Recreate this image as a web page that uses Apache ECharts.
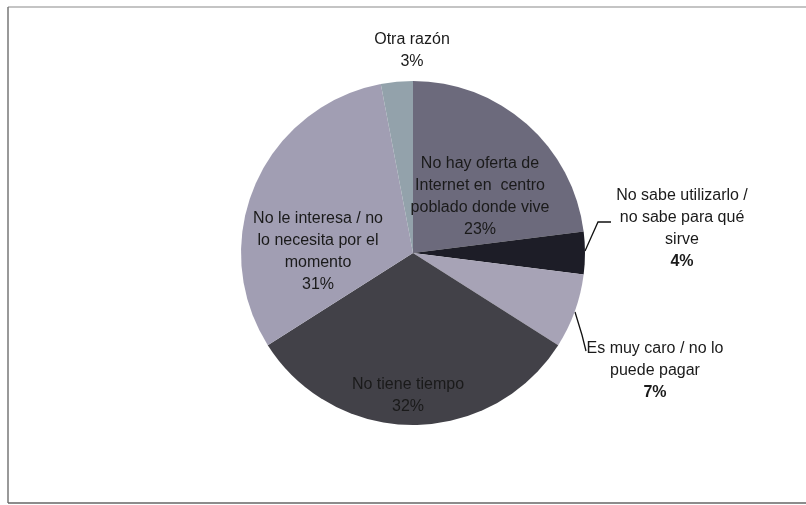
<!DOCTYPE html>
<html>
<head>
<meta charset="utf-8">
<script src="https://cdn.jsdelivr.net/npm/echarts@6/dist/echarts.min.js"></script>
<style>
html,body{margin:0;padding:0;background:#fff;}
#c{width:806px;height:505px;}
</style>
</head>
<body>
<div id="c"></div>
<script>
const categories = [
  "No hay oferta de\nInternet en  centro\npoblado donde vive",
  "No sabe utilizarlo /\nno sabe para qué\nsirve",
  "Es muy caro / no lo\npuede pagar",
  "No tiene tiempo",
  "No le interesa / no\nlo necesita por el\nmomento",
  "Otra razón"
];
const values = [23, 4, 7, 32, 31, 3];
const sliceColors = ["#6c6a7c", "#1d1d27", "#a7a3b6", "#424148", "#a19eb3", "#93a2ab"];
const labelPos = [[480, 197], [682, 229], [655, 371], [408, 396], [318, 252], [412, 51]];
const linePts = {
  1: [[585, 251], [598, 222], [611, 222]],
  2: [[575, 312], [582, 335], [586, 351]]
};
const boldValue = [false, true, true, false, false, false];

const chart = echarts.init(document.getElementById('c'), null, {renderer: 'canvas'});
const data = categories.map((n, i) => ({
  name: n,
  value: values[i],
  itemStyle: {color: sliceColors[i]},
  label: {
    formatter: '{n|{b}}\n' + (boldValue[i] ? '{vb|{c}%}' : '{v|{c}%}')
  },
  labelLine: {show: !!linePts[i], lineStyle: {color: '#111', width: 1.3}}
}));

chart.setOption({
  animation: false,
  backgroundColor: '#fff',
  graphic: [
    {type: 'line', shape: {x1: 8, y1: 7, x2: 806, y2: 7}, style: {stroke: '#b0b0b0', lineWidth: 1.5}},
    {type: 'line', shape: {x1: 8, y1: 7, x2: 8, y2: 503}, style: {stroke: '#777', lineWidth: 1.5}},
    {type: 'line', shape: {x1: 8, y1: 503, x2: 806, y2: 503}, style: {stroke: '#666', lineWidth: 1.5}}
  ],
  series: [{
    type: 'pie',
    center: [413, 253],
    radius: 172,
    startAngle: 90,
    clockwise: true,
    silent: true,
    data: data,
    label: {
      show: true,
      position: 'outside',
      fontFamily: 'Liberation Sans, Arial, sans-serif',
      color: '#1a1a1a',
      lineHeight: 22,
      align: 'center',
      rich: {
        n: {fontSize: 16, lineHeight: 22, fontFamily: 'Liberation Sans, Arial, sans-serif', color: '#1a1a1a', align: 'center'},
        v: {fontSize: 16, lineHeight: 22, fontFamily: 'Liberation Sans, Arial, sans-serif', color: '#1a1a1a', align: 'center'},
        vb: {fontSize: 16, lineHeight: 22, fontWeight: 'bold', fontFamily: 'Liberation Sans, Arial, sans-serif', color: '#1a1a1a', align: 'center'}
      }
    },
    labelLine: {show: false},
    labelLayout: function (params) {
      const i = params.dataIndex;
      const res = {x: labelPos[i][0], y: labelPos[i][1], align: 'center', verticalAlign: 'middle', hideOverlap: false, moveOverlap: false};
      if (linePts[i]) res.labelLinePoints = linePts[i];
      return res;
    }
  }]
});
</script>
</body>
</html>
